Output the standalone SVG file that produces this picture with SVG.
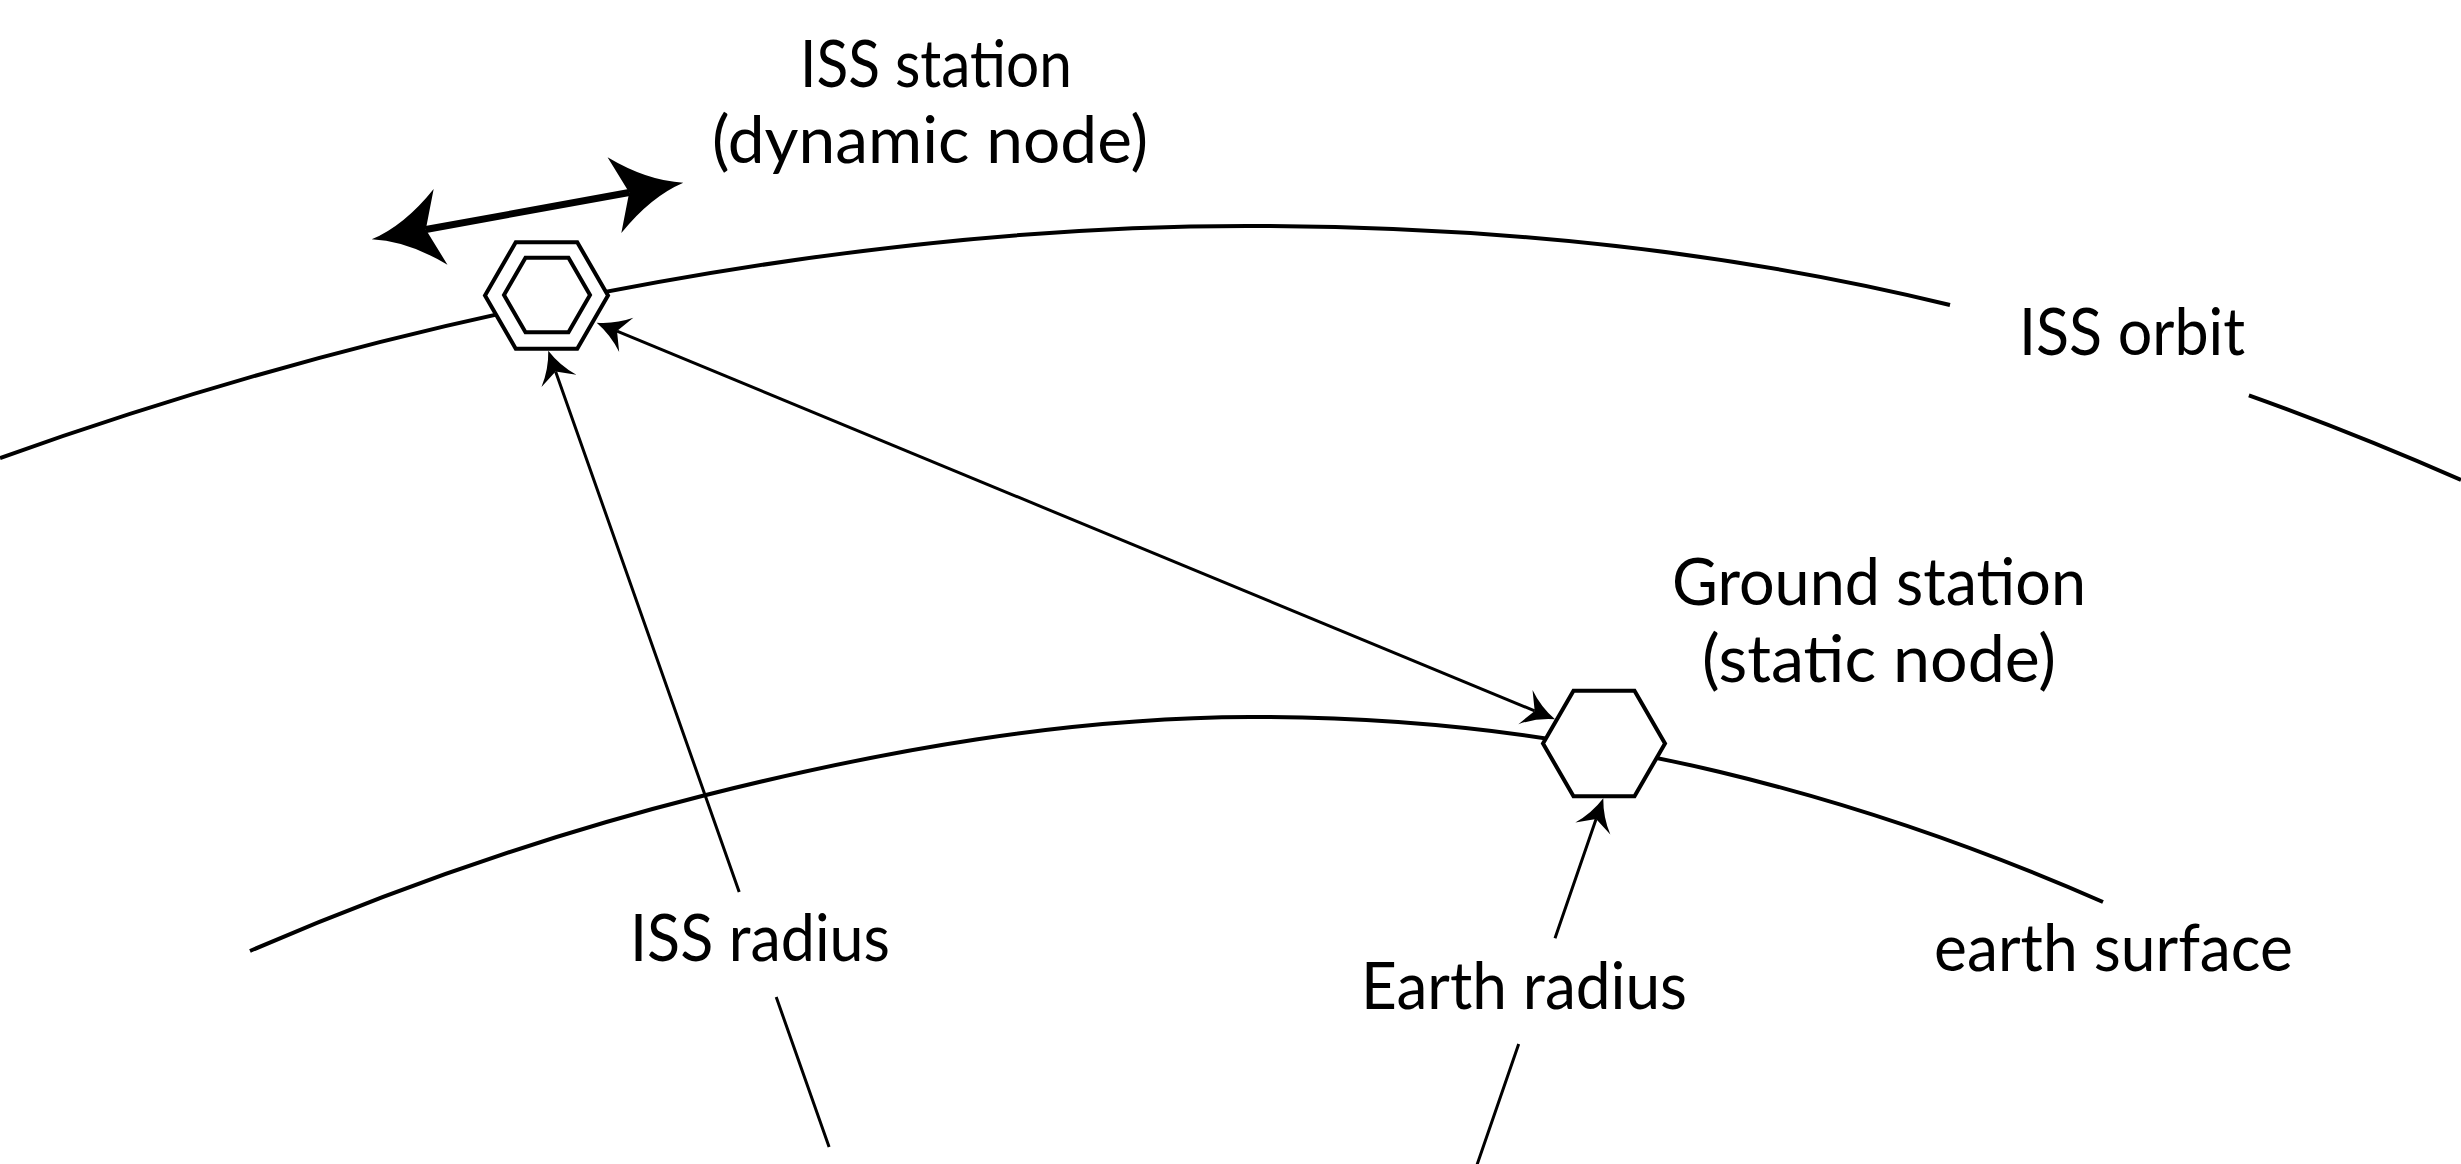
<svg xmlns="http://www.w3.org/2000/svg" width="2461" height="1164" viewBox="0 0 2461 1164">
  <style>
    .curve { fill: none; stroke: #000; stroke-width: 4; stroke-linecap: butt; }
    .conn { fill: none; stroke: #000; stroke-width: 3; }
    .thick { fill: none; stroke: #000; stroke-width: 7; }
    .hex { fill: #fff; stroke: #000; stroke-width: 4; stroke-linejoin: miter; }
    .lbl { font-family: Lato, "Open Sans", "Liberation Sans", sans-serif; font-size: 65px; fill: #000; }
  </style>
  <defs>
    <marker id="arrowSmall" markerUnits="userSpaceOnUse" orient="auto-start-reverse" refX="0" refY="0" markerWidth="80" markerHeight="80" overflow="visible">
      <path d="M22,0 Q4,-6 -10,-18.5 L0,0 L-10,18.5 Q4,6 22,0 Z" fill="#000" stroke="none"/>
    </marker>
    <marker id="arrowBig" markerUnits="userSpaceOnUse" orient="auto-start-reverse" refX="0" refY="0" markerWidth="160" markerHeight="160" overflow="visible">
      <path d="M55,0 Q20,-8 -15,-38.5 L0,0 L-15,38.5 Q20,8 55,0 Z" fill="#000" stroke="none"/>
    </marker>
  </defs>
  <rect width="2461" height="1164" fill="#fff"/>

  <g id="curves">
    <path id="iss-orbit" class="curve" d="M0,458 C183.3,392.5 366.7,340.8 550,303 C783.3,254.9 1016.7,225.7 1250,226 C1483.3,226.3 1716.7,247.7 1950,305 M2248.9,395.4 C2319.6,420.7 2390.3,448.9 2461,480"/>
    <path id="earth-surface" class="curve" d="M250,951 C400.7,885.8 551.3,834.1 702,796 C884.7,749.8 1067.3,717.7 1250,717 C1406.7,716.4 1563.3,734.5 1720,772 C1847.7,802.6 1975.3,845.9 2103,902"/>
  </g>

  <g id="connectors">
    <path id="iss-motion" class="thick" d="M425.8,229.5 L629.2,192.5" marker-start="url(#arrowBig)" marker-end="url(#arrowBig)"/>
    <path id="link" class="conn" d="M617,331.1 L1534.7,710.9" marker-start="url(#arrowSmall)" marker-end="url(#arrowSmall)"/>
    <path id="iss-radius" class="conn" d="M829.1,1147 L776.2,997 M739.2,892 L555.6,371.4" marker-end="url(#arrowSmall)"/>
    <path id="earth-radius" class="conn" d="M1476.6,1166 L1518.7,1044 M1555,938.3 L1596.1,819.1" marker-end="url(#arrowSmall)"/>
  </g>

  <g id="iss-station">
    <polygon class="hex" points="608,295.5 577.25,348.8 515.75,348.8 485,295.5 515.75,242.2 577.25,242.2"/>
    <polygon class="hex" points="590,295 568.5,332.2 525.5,332.2 504,295 525.5,257.8 568.5,257.8"/>
    <text class="lbl" x="800" y="87" textLength="272" lengthAdjust="spacingAndGlyphs">ISS station</text>
    <text class="lbl" x="712" y="163" textLength="436" lengthAdjust="spacingAndGlyphs">(dynamic node)</text>
  </g>

  <g id="ground-station">
    <polygon class="hex" points="1665,743.5 1634.5,796.3 1573.5,796.3 1543,743.5 1573.5,690.7 1634.5,690.7"/>
    <text class="lbl" x="1672" y="605" textLength="414" lengthAdjust="spacingAndGlyphs">Ground station</text>
    <text class="lbl" x="1702" y="682" textLength="354" lengthAdjust="spacingAndGlyphs">(static node)</text>
  </g>

  <g id="labels">
    <text class="lbl" x="2019" y="355" textLength="226" lengthAdjust="spacingAndGlyphs">ISS orbit</text>
    <text class="lbl" x="630" y="961" textLength="260" lengthAdjust="spacingAndGlyphs">ISS radius</text>
    <text class="lbl" x="1361" y="1009" textLength="326" lengthAdjust="spacingAndGlyphs">Earth radius</text>
    <text class="lbl" x="1934" y="971" textLength="359" lengthAdjust="spacingAndGlyphs">earth surface</text>
  </g>
</svg>
